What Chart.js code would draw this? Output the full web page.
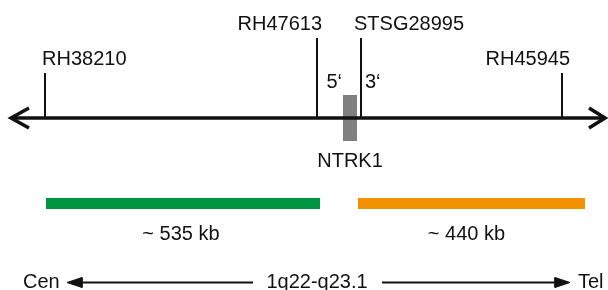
<!DOCTYPE html>
<html><head><meta charset="utf-8">
<script src="https://cdn.jsdelivr.net/npm/chart.js@4/dist/chart.umd.min.js"></script>
<style>html,body{margin:0;padding:0;background:#fff}#wrap{width:608px;height:290px;position:relative}</style>
</head><body><div id="wrap"><canvas id="c"></canvas></div>
<script>
// ---- data (schematic map units) ----
const markerNames = ['RH38210', 'RH47613', 'STSG28995', 'RH45945'];
const markerPos   = [45, 317, 361, 562];
const markerTall  = [false, true, true, false];
const geneName    = 'NTRK1';
const geneSpan    = [343, 357];
const geneEnds    = ['5‘', '3‘'];
const regionLabels = ['~ 535 kb', '~ 440 kb'];
const regionStart  = [46, 358];
const regionEnd    = [320, 585];
const mapSpan      = [10, 606];
const bandLabels   = ['Cen', '1q22-q23.1', 'Tel'];

// ---- layout / style ----
const AXIS_Y = 118, TALL_TOP = 38, SHORT_TOP = 73;
const GENE_TOP = 95, GENE_BOT = 141;
const BAR_TOP = 198, BAR_BOT = 209;
const BOT_Y = 282.5;
const regionColors = ['#009540', '#F39200'];
const INK = '#111111';
const FONT = '20px "Liberation Sans", Arial, sans-serif';

const line = (pts, color, width, extra) => Object.assign({
  data: pts, showLine: true, borderColor: color, borderWidth: width,
  pointRadius: 0, fill: false, borderCapStyle: 'butt', borderJoinStyle: 'miter'
}, extra || {});
const rect = (x0, x1, y0, y1, color) => line(
  [{x:x0,y:y0},{x:x1,y:y0},{x:x1,y:y1},{x:x0,y:y1},{x:x0,y:y0}],
  color, 0, {fill: 'shape', backgroundColor: color});
const tri = (tipX, baseX, y, h) => line(
  [{x:tipX,y:y},{x:baseX,y:y-h},{x:baseX,y:y+h},{x:tipX,y:y}],
  INK, 1, {fill: 'shape', backgroundColor: INK});

const datasets = [];
// main axis with open arrow heads
datasets.push(line([{x:mapSpan[0]+2,y:AXIS_Y},{x:mapSpan[1]-2,y:AXIS_Y}], INK, 3.5));
datasets.push(line([{x:mapSpan[0]+19,y:AXIS_Y-10},{x:mapSpan[0]+1,y:AXIS_Y},{x:mapSpan[0]+19,y:AXIS_Y+10}], INK, 3.5));
datasets.push(line([{x:mapSpan[1]-17,y:AXIS_Y-10},{x:mapSpan[1]-1,y:AXIS_Y},{x:mapSpan[1]-17,y:AXIS_Y+10}], INK, 3.5));
// marker ticks
markerPos.forEach((p, i) => {
  datasets.push(line([{x:p,y:markerTall[i]?TALL_TOP:SHORT_TOP},{x:p,y:AXIS_Y}], INK, 2));
});
// gene box
datasets.push(rect(geneSpan[0], geneSpan[1], GENE_TOP, GENE_BOT, '#808080'));
// regions
regionStart.forEach((s, i) => datasets.push(rect(s, regionEnd[i], BAR_TOP, BAR_BOT, regionColors[i])));
// bottom orientation arrows
datasets.push(line([{x:80,y:BOT_Y},{x:253,y:BOT_Y}], INK, 2));
datasets.push(tri(67, 82, BOT_Y, 5));
datasets.push(line([{x:382,y:BOT_Y},{x:558,y:BOT_Y}], INK, 2));
datasets.push(tri(570, 555, BOT_Y, 5));

const labelPlugin = {
  id: 'labels',
  afterDatasetsDraw(chart) {
    const {ctx, scales:{x, y}} = chart;
    ctx.save();
    ctx.font = FONT; ctx.fillStyle = INK; ctx.textBaseline = 'alphabetic';
    const put = (t, vx, vy, align) => { ctx.textAlign = align; ctx.fillText(t, x.getPixelForValue(vx), y.getPixelForValue(vy)); };
    const lblAlign = ['left', 'right', 'left', 'right'];
    const lblOff = [-3, 5, -7, 8];
    markerNames.forEach((n, i) => {
      const top = markerTall[i] ? TALL_TOP : SHORT_TOP;
      put(n, markerPos[i] + lblOff[i], top - 8, lblAlign[i]);
    });
    put(geneEnds[0], geneSpan[0] - 1, 88, 'right');
    put(geneEnds[1], markerPos[2] + 4, 88, 'left');
    put(geneName, (geneSpan[0] + geneSpan[1]) / 2, 167, 'center');
    const regOff = [-2, -5];
    regionLabels.forEach((t, i) => put(t, (regionStart[i] + regionEnd[i]) / 2 + regOff[i], 240, 'center'));
    put(bandLabels[0], 23, 288, 'left');
    put(bandLabels[1], 317, 288, 'center');
    put(bandLabels[2], 578, 288, 'left');
    ctx.restore();
  }
};

new Chart(document.getElementById('c'), {
  type: 'scatter',
  data: { datasets },
  options: {
    responsive: true, maintainAspectRatio: false, animation: false,
    layout: { padding: 0 },
    plugins: { legend: { display: false }, tooltip: { enabled: false } },
    scales: {
      x: { type: 'linear', min: 0, max: 608, display: false },
      y: { type: 'linear', min: 0, max: 290, reverse: true, display: false }
    }
  },
  plugins: [labelPlugin]
});
</script></body></html>
